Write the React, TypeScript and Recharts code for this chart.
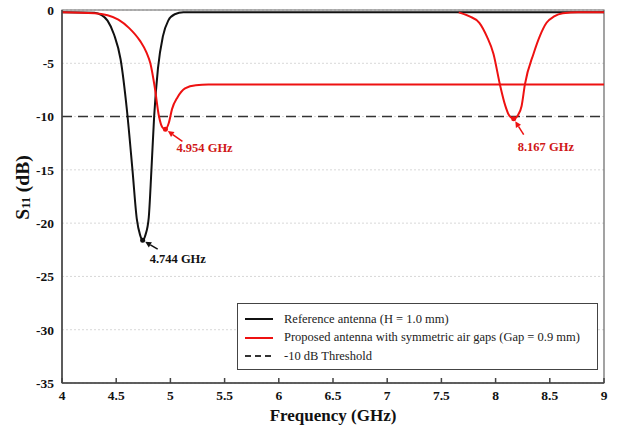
import React from "react";
import {
  LineChart, Line, XAxis, YAxis, CartesianGrid, ReferenceLine,
  ReferenceDot, ReferenceArea
} from "recharts";

// S11 sweep of the reference antenna (H = 1.0 mm)
const refFreq = [4.0, 4.3, 4.36, 4.42, 4.48, 4.54, 4.6, 4.65, 4.69, 4.72, 4.744, 4.77, 4.8, 4.825, 4.85, 4.885, 4.93, 4.98, 5.04, 5.12, 5.5, 6.5, 7.5, 9.0];
const refS11 = [-0.2, -0.25, -0.45, -1.0, -2.3, -4.6, -9.5, -15, -19.6, -21.1, -21.6, -21.1, -19.5, -15, -10, -5.5, -2.5, -1.0, -0.4, -0.22, -0.2, -0.2, -0.2, -0.2];

// proposed antenna with air gaps, lower band
const gapFreq = [4.0, 4.3, 4.42, 4.52, 4.62, 4.72, 4.78, 4.815, 4.855, 4.895, 4.925, 4.954, 4.985, 5.015, 5.065, 5.135, 5.235, 5.35, 6.5, 7.5, 9.0];
const gapS11 = [-0.2, -0.3, -0.5, -0.9, -1.7, -2.9, -4.0, -5, -7.2, -10, -11, -11.2, -10.6, -9.3, -8.2, -7.35, -7.05, -7.0, -7.0, -7.0, -7.0];

// proposed antenna, upper band
const gapHighFreq = [7.66, 7.76, 7.85, 7.92, 7.98, 8.04, 8.09, 8.12, 8.167, 8.21, 8.24, 8.27, 8.35, 8.41, 8.47, 8.54, 8.62, 8.76, 9.0];
const gapHighS11 = [-0.22, -0.6, -1.2, -2.5, -4.1, -7, -9.0, -9.8, -10.2, -9.8, -9.0, -7, -4.1, -2.4, -1.2, -0.6, -0.3, -0.2, -0.2];

const xTicks = [4, 4.5, 5, 5.5, 6, 6.5, 7, 7.5, 8, 8.5, 9];
const yTicks = [0, -5, -10, -15, -20, -25, -30, -35];
const threshold = -10;

// resonances marked on the plot: [GHz, dB]
const refResonance = [4.744, -21.6];
const gapResonance = [4.954, -11.2];
const gapHighResonance = [8.167, -10.2];

const legendItems = [
  { label: "Reference antenna (H = 1.0 mm)", color: "#111", dash: false },
  { label: "Proposed antenna with symmetric air gaps (Gap = 0.9 mm)", color: "#ee1111", dash: false },
  { label: "-10 dB Threshold", color: "#333", dash: true },
];

const RED = "#ee1111";
const SERIF = "'Liberation Serif', 'Times New Roman', serif";

const zip = (xs: number[], ys: number[]) => xs.map((f, i) => ({ f, v: ys[i] }));
const refData = zip(refFreq, refS11);
const gapData = zip(gapFreq, gapS11);
const gapHighData = zip(gapHighFreq, gapHighS11);

// dot at the resonance, with an arrow pointing to it from the frequency label
const makeMarker = (
  text: string, color: string, textColor: string,
  tx: number, ty: number, ax: number, ay: number
) => (props: any) => {
  const { cx, cy } = props;
  const x0 = cx + ax, y0 = cy + ay;
  const ang = Math.atan2(cy - y0, cx - x0);
  const tipX = cx - Math.cos(ang) * 3, tipY = cy - Math.sin(ang) * 3;
  const hl = 6, hw = 3;
  const bx = tipX - Math.cos(ang) * hl, by = tipY - Math.sin(ang) * hl;
  const px = -Math.sin(ang) * hw, py = Math.cos(ang) * hw;
  return (
    <g>
      <circle cx={cx} cy={cy} r={2.5} fill={color} />
      <line x1={x0} y1={y0} x2={bx} y2={by} stroke={color} strokeWidth={1.5} />
      <polygon points={`${tipX},${tipY} ${bx + px},${by + py} ${bx - px},${by - py}`} fill={color} />
      <text x={cx + tx} y={cy + ty} fill={textColor} fontFamily={SERIF} fontWeight="bold" fontSize={12.5}>
        {text}
      </text>
    </g>
  );
};

export default function App() {
  return (
    <div style={{ position: "absolute", left: 0, top: 0, width: 619, height: 430, background: "#fff" }}>
      <LineChart width={619} height={430} data={refData} margin={{ top: 10, right: 15, bottom: 0, left: 0 }}>
        <CartesianGrid vertical={false} stroke="#d8d8d8" strokeDasharray="2 2" />
        <XAxis
          dataKey="f"
          type="number"
          domain={[4, 9]}
          ticks={xTicks}
          allowDataOverflow
          height={47}
          stroke="#444"
          strokeWidth={1.5}
          tickSize={-5}
          tickMargin={12}
          tick={{ fill: "#111", fontSize: 13.5, fontWeight: "bold", fontFamily: SERIF }}
          label={{ value: "Frequency (GHz)", position: "insideBottom", offset: 9, fill: "#111", fontSize: 17, fontWeight: "bold", fontFamily: SERIF }}
        />
        <YAxis
          type="number"
          domain={[-35, 0]}
          ticks={yTicks}
          allowDataOverflow
          width={62}
          stroke="#444"
          strokeWidth={1.5}
          tickSize={0}
          tickMargin={8}
          tick={{ fill: "#111", fontSize: 13.5, fontWeight: "bold", fontFamily: SERIF }}
          label={(p: any) => {
            const vb = p.viewBox;
            const cx = 22, cy = vb.y + vb.height / 2 - 9;
            return (
              <text transform={`translate(${cx},${cy}) rotate(-90)`} textAnchor="middle" dominantBaseline="central"
                fill="#111" fontFamily={SERIF} fontWeight="bold" fontSize={19.5}>
                S<tspan fontSize={12.5} dy={4}>11</tspan><tspan dy={-4}> (dB)</tspan>
              </text>
            );
          }}
        />
        <ReferenceArea x1={4} x2={9} y1={-35} y2={0} fill="none" stroke="#666" strokeWidth={1.2} ifOverflow="visible" />
        <ReferenceLine y={threshold} stroke="#333" strokeWidth={1.5} strokeDasharray="10 6" />
        <Line data={refData} dataKey="v" type="monotone" stroke="#111" strokeWidth={2} dot={false} isAnimationActive={false} />
        <Line data={gapData} dataKey="v" type="monotone" stroke={RED} strokeWidth={2} dot={false} isAnimationActive={false} />
        <Line data={gapHighData} dataKey="v" type="monotone" stroke={RED} strokeWidth={2} dot={false} isAnimationActive={false} />
        <ReferenceDot
          x={gapResonance[0]} y={gapResonance[1]} r={2.5}
          shape={makeMarker(`${gapResonance[0]} GHz`, RED, "#d01818", 11, 23, 17, 12)}
        />
        <ReferenceDot
          x={refResonance[0]} y={refResonance[1]} r={2.5}
          shape={makeMarker(`${refResonance[0]} GHz`, "#111", "#111", 7, 23, 15, 9)}
        />
        <ReferenceDot
          x={gapHighResonance[0]} y={gapHighResonance[1]} r={2.5}
          shape={makeMarker(`${gapHighResonance[0]} GHz`, RED, "#d01818", 4, 32, 10, 16)}
        />
      </LineChart>
      <div
        style={{
          position: "absolute", left: 237, top: 303, width: 361, height: 67,
          border: "1.2px solid #444", background: "#fff", boxSizing: "border-box",
          fontFamily: SERIF, fontSize: 12.5, color: "#222", padding: "6px 0 0 7px",
        }}
      >
        {legendItems.map((it) => (
          <div key={it.label} style={{ display: "flex", alignItems: "center", height: 18.5 }}>
            <svg width={29} height={6} style={{ marginRight: 10 }}>
              <line x1={0} y1={3} x2={28} y2={3} stroke={it.color} strokeWidth={2} strokeDasharray={it.dash ? "6 4" : undefined} />
            </svg>
            <span>{it.label}</span>
          </div>
        ))}
      </div>
    </div>
  );
}
